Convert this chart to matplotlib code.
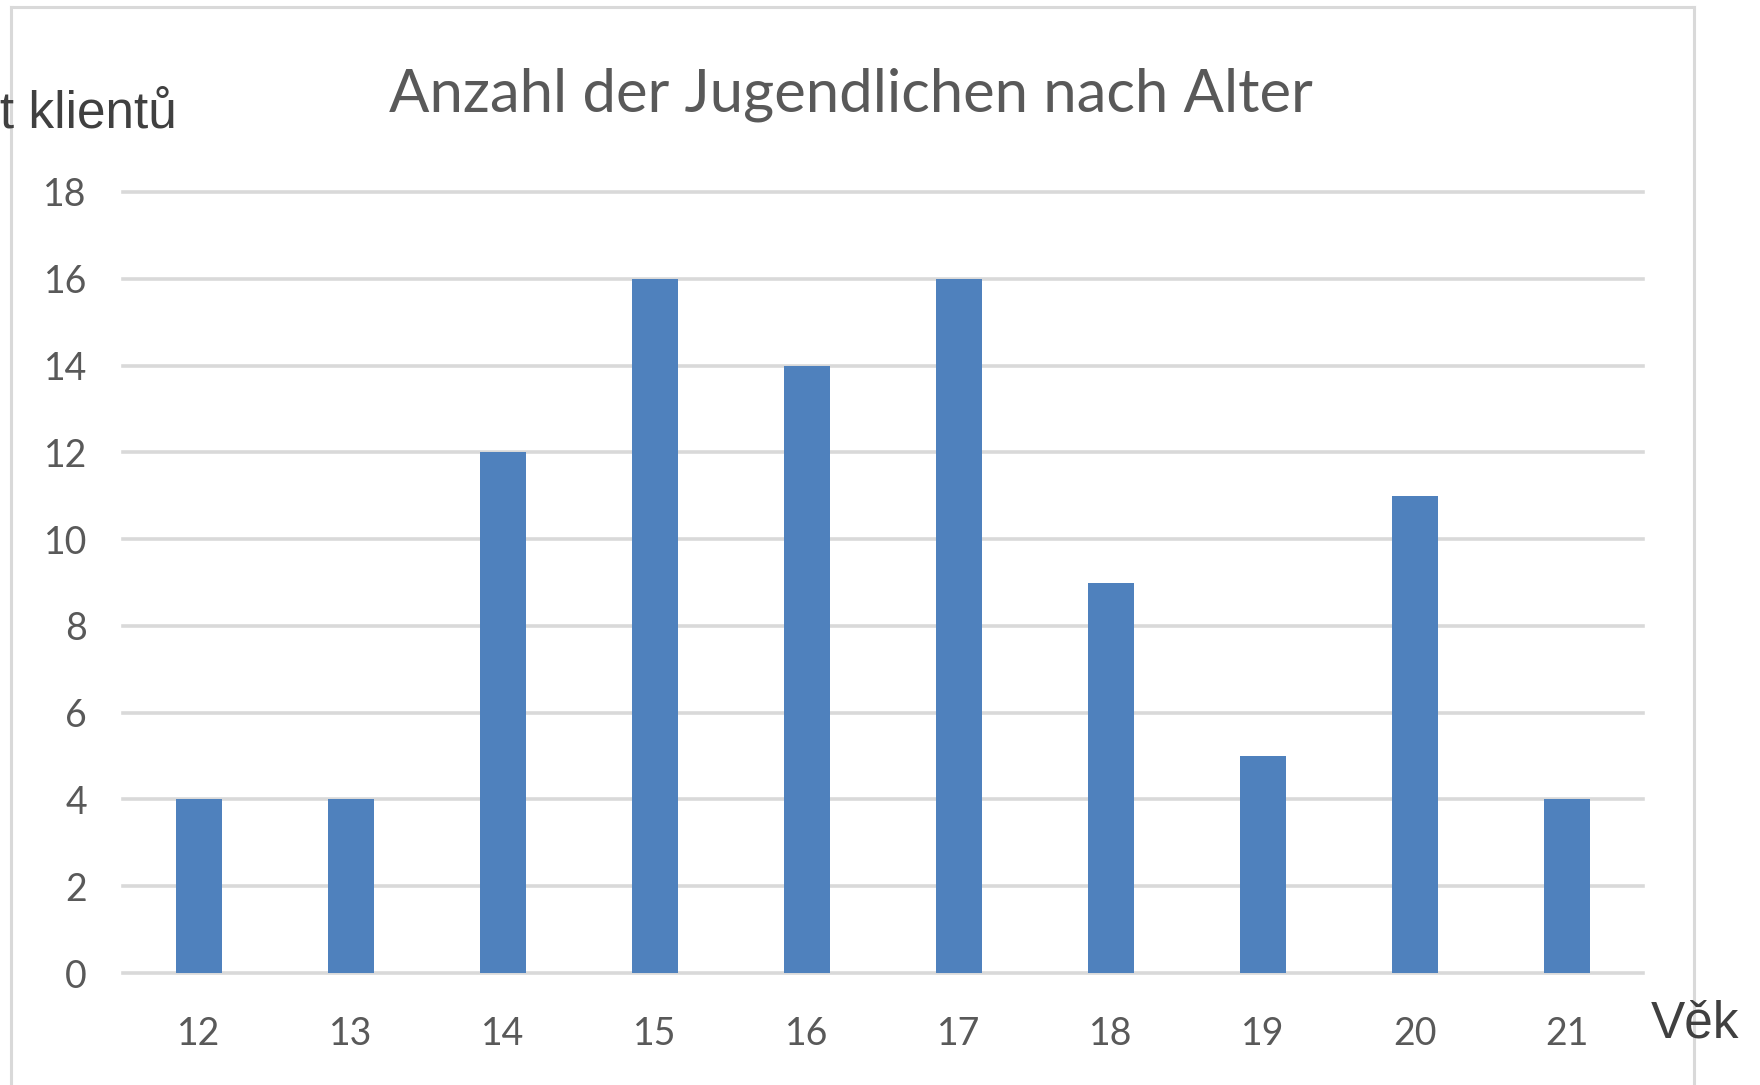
import matplotlib.pyplot as plt
from matplotlib.lines import Line2D

# age groups and counts
ages = ["12", "13", "14", "15", "16", "17", "18", "19", "20", "21"]
counts = [4, 4, 12, 16, 14, 16, 9, 5, 11, 4]
yticks = [0, 2, 4, 6, 8, 10, 12, 14, 16, 18]

W, H = 1760, 1085
fig = plt.figure(figsize=(W / 100, H / 100), dpi=100)
ax = fig.add_axes([123 / W, 1 - 973 / H, (1643 - 123) / W, (973 - 192) / H])

ax.bar(range(len(ages)), counts, width=0.30, color="#4f81bd", zorder=3)
ax.set_xlim(-0.5, len(ages) - 0.5)
ax.set_ylim(0, 18)
ax.set_yticks(yticks)
ax.set_xticks(range(len(ages)))
ax.set_xticklabels(ages)

ax.grid(axis="y", color="#d9d9d9", linewidth=2.6, zorder=0)
for ln in ax.get_ygridlines():
    ln.set_clip_on(False)
ax.tick_params(length=0, labelsize=27, labelcolor="#595959")
ax.tick_params(axis="y", pad=26)
ax.tick_params(axis="x", pad=31)
for lab in ax.get_xticklabels() + ax.get_yticklabels():
    lab.set_fontfamily("Lato")
for s in ax.spines.values():
    s.set_visible(False)

fig.text(851 / W, 1 - 95 / H, "Anzahl der Jugendlichen nach Alter", ha="center", va="center",
         fontsize=43, color="#595959", family="Lato")
# axis titles sit outside the plot; the y one is cut by the left edge like in the source
fig.text(177 / W, 1 - 128 / H, "Počet klientů", ha="right", va="baseline",
         fontsize=37, color="#404040", family="Liberation Sans")
fig.text(1651 / W, 1 - 1037 / H, "Věk", ha="left", va="baseline",
         fontsize=37, color="#404040", family="Liberation Sans")

# outer chart frame
fx0, fx1, fy = 11 / W, 1694 / W, 1 - 7 / H
for xs, ys in [([fx0, fx0], [-0.05, fy]), ([fx0, fx1], [fy, fy]), ([fx1, fx1], [fy, -0.05])]:
    fig.add_artist(Line2D(xs, ys, color="#d9d9d9", linewidth=2.2, zorder=0))

fig.savefig("out.png", dpi=100)
